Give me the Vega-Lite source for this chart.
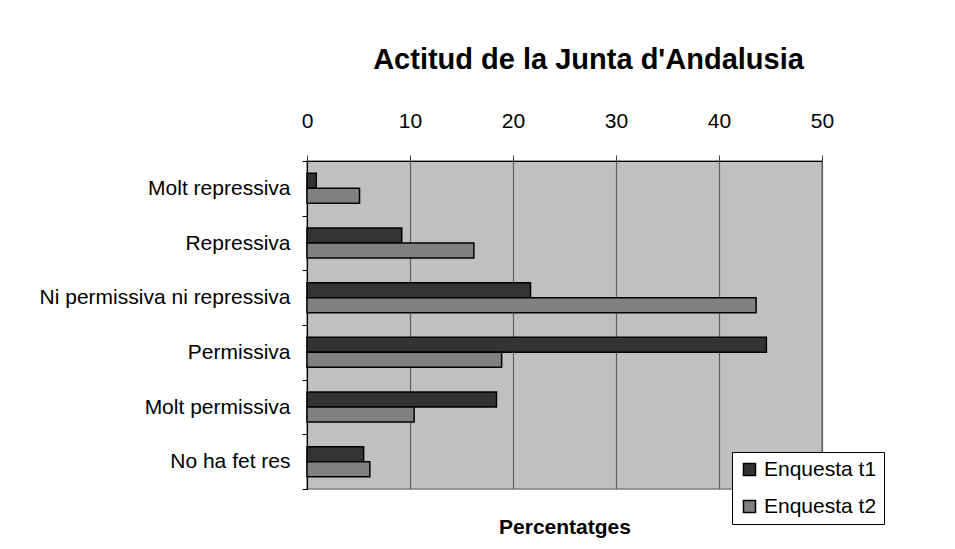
{
  "$schema": "https://vega.github.io/schema/vega-lite/v6.json",
  "width": 515,
  "height": 328,
  "autosize": "none",
  "padding": {"left": 307, "top": 161, "right": 133, "bottom": 60},
  "background": "white",
  "title": {
    "text": "Actitud de la Junta d'Andalusia",
    "font": "Liberation Sans",
    "fontSize": 29,
    "fontWeight": "bold",
    "color": "black",
    "anchor": "middle",
    "dx": 24,
    "offset": 35
  },
  "config": {
    "font": "Liberation Sans",
    "view": {"fill": "#C0C0C0", "stroke": "#808080", "strokeWidth": 1.5}
  },
  "data": {
    "values": [
      {"categoria": "Molt repressiva", "enquesta": "Enquesta t1", "percentatge": 0.9},
      {"categoria": "Molt repressiva", "enquesta": "Enquesta t2", "percentatge": 5.1},
      {"categoria": "Repressiva", "enquesta": "Enquesta t1", "percentatge": 9.2},
      {"categoria": "Repressiva", "enquesta": "Enquesta t2", "percentatge": 16.2},
      {"categoria": "Ni permissiva ni repressiva", "enquesta": "Enquesta t1", "percentatge": 21.7},
      {"categoria": "Ni permissiva ni repressiva", "enquesta": "Enquesta t2", "percentatge": 43.6},
      {"categoria": "Permissiva", "enquesta": "Enquesta t1", "percentatge": 44.6},
      {"categoria": "Permissiva", "enquesta": "Enquesta t2", "percentatge": 18.9},
      {"categoria": "Molt permissiva", "enquesta": "Enquesta t1", "percentatge": 18.4},
      {"categoria": "Molt permissiva", "enquesta": "Enquesta t2", "percentatge": 10.4},
      {"categoria": "No ha fet res", "enquesta": "Enquesta t1", "percentatge": 5.5},
      {"categoria": "No ha fet res", "enquesta": "Enquesta t2", "percentatge": 6.1}
    ]
  },
  "layer": [
    {
      "mark": {"type": "bar", "stroke": "black", "strokeWidth": 1.5},
      "encoding": {
        "y": {
          "field": "categoria",
          "type": "nominal",
          "sort": ["Molt repressiva", "Repressiva", "Ni permissiva ni repressiva", "Permissiva", "Molt permissiva", "No ha fet res"],
          "scale": {"paddingInner": 0, "paddingOuter": 0},
          "axis": {
            "title": null,
            "tickBand": "extent",
            "grid": false,
            "labelFont": "Liberation Sans",
            "labelFontSize": 21,
            "labelColor": "black",
            "labelPadding": 12,
            "labelLimit": 400,
            "tickSize": 5,
            "tickColor": "black",
            "domainColor": "black",
            "domainWidth": 1
          }
        },
        "yOffset": {
          "field": "enquesta",
          "type": "nominal",
          "scale": {"paddingInner": 0, "paddingOuter": 0.82}
        },
        "x": {
          "field": "percentatge",
          "type": "quantitative",
          "scale": {"domain": [0, 50], "nice": false},
          "axis": {
            "orient": "top",
            "title": null,
            "values": [0, 10, 20, 30, 40, 50],
            "grid": true,
            "gridColor": "#606060",
            "gridOpacity": 1,
            "gridWidth": 1.2,
            "domainColor": "black",
            "domainWidth": 1.2,
            "tickColor": "#404040",
            "tickSize": 6,
            "labelFont": "Liberation Sans",
            "labelFontSize": 21,
            "labelColor": "black",
            "labelPadding": 28,
            "labelBaseline": "alphabetic",
            "labelFlush": false
          }
        },
        "color": {
          "field": "enquesta",
          "type": "nominal",
          "scale": {"domain": ["Enquesta t1", "Enquesta t2"], "range": ["#333333", "#808080"]},
          "legend": {
            "orient": "none",
            "legendX": 425,
            "legendY": 291,
            "title": null,
            "strokeColor": "black",
            "fillColor": "white",
            "padding": 7,
            "symbolType": "square",
            "symbolSize": 144,
            "symbolStrokeColor": "black",
            "symbolStrokeWidth": 1.5,
            "symbolOpacity": 1,
            "labelFont": "Liberation Sans",
            "labelFontSize": 21,
            "labelColor": "black",
            "labelOffset": 4,
            "rowPadding": 15
          }
        }
      }
    },
    {
      "mark": {"type": "bar", "opacity": 0},
      "encoding": {
        "y": {
          "field": "categoria",
          "type": "nominal",
          "sort": ["Molt repressiva", "Repressiva", "Ni permissiva ni repressiva", "Permissiva", "Molt permissiva", "No ha fet res"]
        },
        "x": {
          "field": "percentatge",
          "type": "quantitative",
          "axis": {
            "orient": "bottom",
            "title": "Percentatges",
            "titleFont": "Liberation Sans",
            "titleFontSize": 21,
            "titleFontWeight": "bold",
            "titleColor": "black",
            "titleBaseline": "alphabetic",
            "titlePadding": 44,
            "labels": false,
            "ticks": false,
            "domain": false,
            "grid": false
          }
        }
      }
    }
  ],
  "resolve": {"axis": {"x": "independent"}}
}
